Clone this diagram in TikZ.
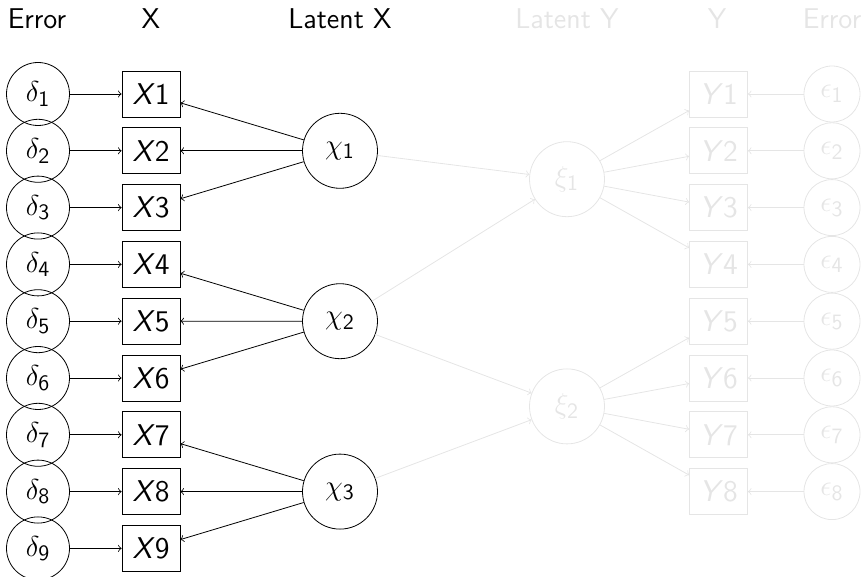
\documentclass[tikz,border=0pt]{standalone}
\usetikzlibrary{arrows}
\begin{document}
\begin{tikzpicture}[x=0.5pt,y=-0.5pt,
  nodefont/.style={font=\sffamily\fontsize{15}{18}\selectfont},
  errc/.style={circle,draw,minimum size=31.5pt,inner sep=0pt,nodefont},
  obs/.style={rectangle,draw,minimum width=29pt,minimum height=23pt,inner sep=0pt,nodefont},
  lat/.style={circle,draw,minimum size=37.5pt,inner sep=0pt,nodefont},
  epsc/.style={circle,draw,minimum size=28pt,inner sep=0pt,nodefont},
  faded/.style={draw=black!10,text=black!10},
  hdr/.style={anchor=base,font=\sffamily\fontsize{14.3}{17}\selectfont},
  arr/.style={->},
  farr/.style={->,draw=black!10}]
\useasboundingbox (0,0) rectangle (863,577);
% headers
\node[hdr] (h1) at (37,29) {Error};
\node[hdr] (h2) at (151,29) {X};
\node[hdr] (h3) at (340,29) {Latent X};
\node[hdr,text=black!10] (h4) at (567,29) {Latent Y};
\node[hdr,text=black!10] (h5) at (717,29) {Y};
\node[hdr,text=black!10] (h6) at (832,29) {Error};
% X side
\foreach \i in {1,...,9} {
  \pgfmathsetmacro\yy{94+56.8*(\i-1)}
  \node[errc] (d\i) at (38,\yy) {$\delta_{\mathsf{\i}}$};
  \node[obs] (x\i) at (151,\yy) {\textit{X}\i};
  \draw[arr] (d\i) -- (x\i);
}
% Y side
\foreach \i in {1,...,8} {
  \pgfmathsetmacro\yy{94+56.8*(\i-1)}
  \node[obs,faded] (y\i) at (718.5,\yy) {\textit{Y}\i};
  \node[epsc,faded] (e\i) at (832,\yy) {$\epsilon_{\mathsf{\i}}$};
  \draw[farr] (e\i) -- (y\i);
}
% latent X
\node[lat] (c1) at (340,150.8) {$\chi_{\mathsf{1}}$};
\node[lat] (c2) at (340,321.2) {$\chi_{\mathsf{2}}$};
\node[lat] (c3) at (340,491.6) {$\chi_{\mathsf{3}}$};
% latent Y
\node[lat,faded] (k1) at (567,179.2) {$\xi_{\mathsf{1}}$};
\node[lat,faded] (k2) at (567,406.4) {$\xi_{\mathsf{2}}$};
\foreach \i in {1,2,3} \draw[arr] (c1) -- (x\i);
\foreach \i in {4,5,6} \draw[arr] (c2) -- (x\i);
\foreach \i in {7,8,9} \draw[arr] (c3) -- (x\i);
\draw[farr] (c1) -- (k1);
\draw[farr] (c2) -- (k1);
\draw[farr] (c2) -- (k2);
\draw[farr] (c3) -- (k2);
\foreach \i in {1,2,3,4} \draw[farr] (k1) -- (y\i);
\foreach \i in {5,6,7,8} \draw[farr] (k2) -- (y\i);
\end{tikzpicture}
\end{document}
